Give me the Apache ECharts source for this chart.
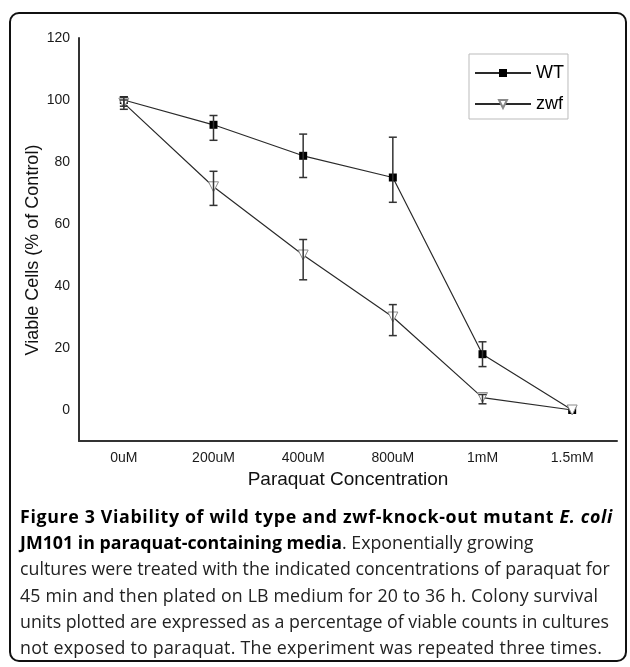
<!DOCTYPE html>
<html>
<head>
<meta charset="utf-8">
<script src="https://cdn.jsdelivr.net/npm/echarts@6/dist/echarts.min.js"></script>
<style>
  html, body { margin: 0; padding: 0; background: #fff; }
  #wrap { position: relative; width: 630px; height: 667px; overflow: hidden; }
  #frame { position: absolute; left: 9px; top: 12px; width: 618px; height: 650px;
           border: 2px solid #111; border-radius: 10px; box-sizing: border-box; }
  #chart { position: absolute; left: 0; top: 0; width: 630px; height: 667px; }
  #caption { position: absolute; left: 20px; top: 503px;
             font-family: "Open Sans", sans-serif; font-size: 17.8px; line-height: 26.2px;
             color: #222; white-space: nowrap; }
  #caption b { color: #000; font-weight: 700; }
</style>
</head>
<body>
<div id="wrap">
  <div id="frame"></div>
  <div id="chart"></div>
  <div id="caption">
    <div style="letter-spacing:0.65px"><b>Figure 3 Viability of wild type and zwf-knock-out mutant <i>E. coli</i></b></div>
    <div><b>JM101 in paraquat-containing media</b>. Exponentially growing</div>
    <div>cultures were treated with the indicated concentrations of paraquat for</div>
    <div style="letter-spacing:0.15px">45 min and then plated on LB medium for 20 to 36 h. Colony survival</div>
    <div>units plotted are expressed as a percentage of viable counts in cultures</div>
    <div style="letter-spacing:0.25px">not exposed to paraquat. The experiment was repeated three times.</div>
  </div>
</div>
<script>
const categories = ['0uM', '200uM', '400uM', '800uM', '1mM', '1.5mM'];
const wtValues  = [100, 92, 82, 75, 18, 0];
const wtLow     = [98, 87, 75, 67, 14, 0];
const wtHigh    = [101, 95, 89, 88, 22, 0];
const zwfValues = [99, 72, 50, 30, 4, 0];
const zwfLow    = [97, 66, 42, 24, 2, 0];
const zwfHigh   = [100, 77, 55, 34, 5, 0];
const yTickLabels = [0, 20, 40, 60, 80, 100, 120];

const chart = echarts.init(document.getElementById('chart'), null, { renderer: 'canvas' });

function errorBars(low, high) {
  return categories.map((c, i) => [i, low[i], high[i]]);
}
function renderErr(params, api) {
  const lo = api.value(1), hi = api.value(2);
  if (lo === hi) return null;
  const x = api.value(0);
  const t = api.coord([x, hi]);
  const b = api.coord([x, lo]);
  const hw = 4;
  const st = { stroke: '#333', lineWidth: 1.5 };
  return {
    type: 'group',
    children: [
      { type: 'line', shape: { x1: t[0], y1: t[1], x2: b[0], y2: b[1] }, style: st },
      { type: 'line', shape: { x1: t[0] - hw, y1: t[1], x2: t[0] + hw, y2: t[1] }, style: st },
      { type: 'line', shape: { x1: b[0] - hw, y1: b[1], x2: b[0] + hw, y2: b[1] }, style: st }
    ]
  };
}

const axisFont = 'Arial, "Liberation Sans", sans-serif';

chart.setOption({
  animation: false,
  backgroundColor: 'transparent',
  grid: { left: 79, top: 38, width: 538, height: 403, containLabel: false },
  graphic: [{
    type: 'text',
    x: 33, y: 250,
    rotation: Math.PI / 2,
    style: {
      text: 'Viable Cells (% of Control)',
      fontFamily: axisFont, fontSize: 18, fill: '#111',
      textAlign: 'center', textVerticalAlign: 'middle'
    }
  }],
  legend: {
    orient: 'vertical',
    left: 469, top: 54,
    data: ['WT', 'zwf'],
    itemWidth: 56, itemHeight: 10, itemGap: 13,
    padding: [10, 4, 6, 5],
    borderColor: '#bbb', borderWidth: 1, borderRadius: 0,
    textStyle: { fontFamily: axisFont, fontSize: 18, color: '#000' }
  },
  xAxis: {
    type: 'category',
    data: categories,
    boundaryGap: true,
    axisLine: { onZero: false, lineStyle: { color: '#333', width: 2 } },
    axisTick: { show: false },
    axisLabel: { margin: 10, fontFamily: axisFont, fontSize: 14, color: '#1a1a1a' },
    name: 'Paraquat Concentration',
    nameLocation: 'middle',
    nameGap: 26,
    nameTextStyle: { fontFamily: axisFont, fontSize: 19, color: '#111' },
    splitLine: { show: false }
  },
  yAxis: {
    type: 'value',
    min: -10, max: 120, interval: 10,
    axisLine: { show: true, onZero: false, lineStyle: { color: '#333', width: 2 } },
    axisTick: { show: false },
    splitLine: { show: false },
    axisLabel: {
      margin: 9, fontFamily: axisFont, fontSize: 14, color: '#1a1a1a',
      formatter: v => (yTickLabels.indexOf(v) >= 0 ? String(v) : '')
    }
  },
  series: [
    {
      name: 'WT', type: 'line', data: wtValues,
      symbol: 'rect', symbolSize: 8,
      itemStyle: { color: '#000' },
      lineStyle: { color: '#2a2a2a', width: 1.2 },
      z: 2
    },
    {
      name: 'zwf', type: 'line', data: zwfValues,
      symbol: 'triangle', symbolRotate: 180, symbolSize: 10,
      itemStyle: { color: '#fff', borderColor: '#8a8a8a', borderWidth: 1 },
      lineStyle: { color: '#2a2a2a', width: 1.2 },
      z: 3
    },
    {
      name: 'WT error', type: 'custom', data: errorBars(wtLow, wtHigh),
      renderItem: renderErr, encode: { x: 0, y: [1, 2] }, z: 4, silent: true
    },
    {
      name: 'zwf error', type: 'custom', data: errorBars(zwfLow, zwfHigh),
      renderItem: renderErr, encode: { x: 0, y: [1, 2] }, z: 4, silent: true
    }
  ]
});
</script>
</body>
</html>
